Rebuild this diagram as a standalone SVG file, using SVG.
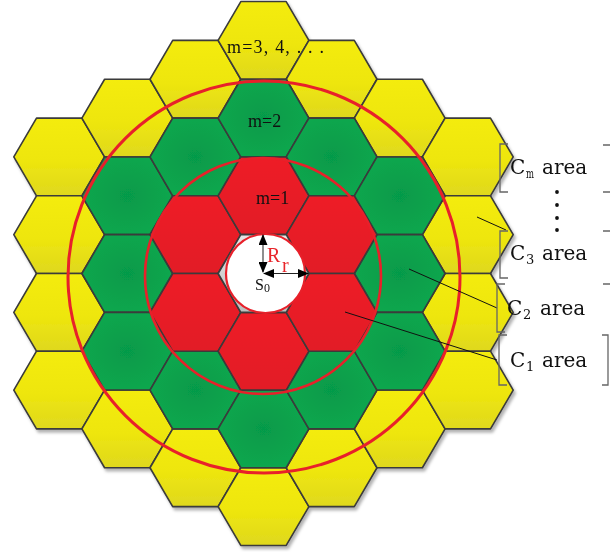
<svg xmlns="http://www.w3.org/2000/svg" xmlns:xlink="http://www.w3.org/1999/xlink" width="610" height="552" viewBox="0 0 610 552">
<style>
.hx{stroke:#3a3a3a;stroke-width:1.6;stroke-linejoin:round}
.y{fill:url(#gY)}
.g{fill:url(#gG)}
.r{fill:url(#gR)}
.c{fill:url(#gC)}
.ring{fill:none;stroke:#E8202A}
.lead{stroke:#111;stroke-width:1;fill:none}
.br{stroke:#666;stroke-width:1.3;fill:none}
.tm{font-family:"Liberation Serif","Times New Roman",serif;font-size:18px;fill:#111}
.lb{font-family:"DejaVu Serif","Liberation Serif",serif;font-size:20px;fill:#111}
.sb{font-family:"DejaVu Serif","Liberation Serif",serif;font-size:13px;fill:#111}
</style>
<defs>
<linearGradient id="gY" x1="0" y1="0" x2="0" y2="1">
<stop offset="0" stop-color="#F4EC0A"/><stop offset="0.55" stop-color="#EEE60E"/><stop offset="1" stop-color="#DFD81E"/>
</linearGradient>
<radialGradient id="gG" cx="0.5" cy="0.5" r="0.6">
<stop offset="0" stop-color="#069A4A"/><stop offset="1" stop-color="#0CA94E"/>
</radialGradient>
<linearGradient id="gR" x1="0" y1="0" x2="0" y2="1">
<stop offset="0" stop-color="#EE1C25"/><stop offset="1" stop-color="#E21D26"/>
</linearGradient>
<linearGradient id="gC" x1="0" y1="0" x2="0" y2="1">
<stop offset="0" stop-color="#e6e6e6"/><stop offset="1" stop-color="#bdbdbd"/>
</linearGradient>
<polygon id="hex" points="-45.4,0 -22.7,-38.85 22.7,-38.85 45.4,0 22.7,38.85 -22.7,38.85"/>
<filter id="sh" x="-5%" y="-5%" width="110%" height="110%">
<feDropShadow dx="2" dy="3" stdDeviation="1.8" flood-color="#000" flood-opacity="0.3"/>
</filter>
<marker id="ah" markerUnits="userSpaceOnUse" markerWidth="11" markerHeight="9" refX="10" refY="4.5" orient="auto-start-reverse" viewBox="0 0 11 9">
<path d="M0,0 L11,4.5 L0,9 z" fill="#000"/>
</marker>
</defs>

<g id="cells" filter="url(#sh)">
<g id="ring3">
<g id="y1"><use xlink:href="#hex" class="hx y" x="59.2" y="156.95"/></g>
<g id="y2"><use xlink:href="#hex" class="hx y" x="59.2" y="234.65"/></g>
<g id="y3"><use xlink:href="#hex" class="hx y" x="59.2" y="312.35"/></g>
<g id="y4"><use xlink:href="#hex" class="hx y" x="59.2" y="390.05"/></g>
<g id="y5"><use xlink:href="#hex" class="hx y" x="127.3" y="118.1"/></g>
<g id="y6"><use xlink:href="#hex" class="hx y" x="127.3" y="428.9"/></g>
<g id="y7"><use xlink:href="#hex" class="hx y" x="195.4" y="79.25"/></g>
<g id="y8"><use xlink:href="#hex" class="hx y" x="195.4" y="467.75"/></g>
<g id="y9"><use xlink:href="#hex" class="hx y" x="263.5" y="40.4"/></g>
<g id="y10"><use xlink:href="#hex" class="hx y" x="263.5" y="506.6"/></g>
<g id="y11"><use xlink:href="#hex" class="hx y" x="331.6" y="79.25"/></g>
<g id="y12"><use xlink:href="#hex" class="hx y" x="331.6" y="467.75"/></g>
<g id="y13"><use xlink:href="#hex" class="hx y" x="399.7" y="118.1"/></g>
<g id="y14"><use xlink:href="#hex" class="hx y" x="399.7" y="428.9"/></g>
<g id="y15"><use xlink:href="#hex" class="hx y" x="467.8" y="156.95"/></g>
<g id="y16"><use xlink:href="#hex" class="hx y" x="467.8" y="234.65"/></g>
<g id="y17"><use xlink:href="#hex" class="hx y" x="467.8" y="312.35"/></g>
<g id="y18"><use xlink:href="#hex" class="hx y" x="467.8" y="390.05"/></g>
</g>
<g id="ring2">
<g id="g1"><use xlink:href="#hex" class="hx g" x="127.3" y="195.8"/></g>
<g id="g2"><use xlink:href="#hex" class="hx g" x="127.3" y="273.5"/></g>
<g id="g3"><use xlink:href="#hex" class="hx g" x="127.3" y="351.2"/></g>
<g id="g4"><use xlink:href="#hex" class="hx g" x="195.4" y="156.95"/></g>
<g id="g5"><use xlink:href="#hex" class="hx g" x="195.4" y="390.05"/></g>
<g id="g6"><use xlink:href="#hex" class="hx g" x="263.5" y="118.1"/></g>
<g id="g7"><use xlink:href="#hex" class="hx g" x="263.5" y="428.9"/></g>
<g id="g8"><use xlink:href="#hex" class="hx g" x="331.6" y="156.95"/></g>
<g id="g9"><use xlink:href="#hex" class="hx g" x="331.6" y="390.05"/></g>
<g id="g10"><use xlink:href="#hex" class="hx g" x="399.7" y="195.8"/></g>
<g id="g11"><use xlink:href="#hex" class="hx g" x="399.7" y="273.5"/></g>
<g id="g12"><use xlink:href="#hex" class="hx g" x="399.7" y="351.2"/></g>
</g>
<g id="ring1">
<g id="r1"><use xlink:href="#hex" class="hx r" x="195.4" y="234.65"/></g>
<g id="r2"><use xlink:href="#hex" class="hx r" x="195.4" y="312.35"/></g>
<g id="r3"><use xlink:href="#hex" class="hx r" x="263.5" y="195.8"/></g>
<g id="r4"><use xlink:href="#hex" class="hx r" x="263.5" y="351.2"/></g>
<g id="r5"><use xlink:href="#hex" class="hx r" x="331.6" y="234.65"/></g>
<g id="r6"><use xlink:href="#hex" class="hx r" x="331.6" y="312.35"/></g>
</g>
<g id="center"><use xlink:href="#hex" class="hx c" x="263.5" y="273.5"/></g>
</g>

<g id="circles">
<circle id="outer-circle" class="ring" cx="264" cy="277" r="196" stroke-width="3"/>
<circle id="middle-circle" class="ring" cx="263" cy="276" r="118" stroke-width="2.6"/>
<circle id="s0-circle" cx="265.5" cy="273.5" r="39.5" fill="#fff" stroke="#E8202A" stroke-width="2.2"/>
</g>

<g id="connectors">
<line class="lead" x1="345" y1="312" x2="497" y2="360"/>
<line class="lead" x1="409" y1="269" x2="497" y2="308"/>
<line class="lead" x1="477" y1="217" x2="506" y2="230"/>
<line x1="263" y1="235" x2="263" y2="272" stroke="#444" stroke-width="1.2" marker-start="url(#ah)" marker-end="url(#ah)"/>
<line x1="264" y1="273.5" x2="308" y2="273.5" stroke="#222" stroke-width="1.2" marker-start="url(#ah)" marker-end="url(#ah)"/>
</g>

<g id="ring-labels">
<text class="tm" x="227" y="53" textLength="97" lengthAdjust="spacing">m=3, 4, . . .</text>
<text class="tm" x="248" y="127">m=2</text>
<text class="tm" x="256" y="204">m=1</text>
<text x="267" y="262" font-family="Liberation Serif,serif" font-size="20" fill="#E8262B">R</text>
<text x="282" y="272" font-family="Liberation Serif,serif" font-size="20" fill="#E8262B">r</text>
<text x="255" y="290" font-family="Liberation Serif,serif" font-size="16" fill="#111">S</text>
<text x="264" y="292" font-family="Liberation Serif,serif" font-size="12" fill="#111">0</text>
</g>

<g id="area-Cm">
<path class="br" d="M508,144 H500 V192 H508"/>
<text class="lb" x="510" y="174">C</text>
<text class="sb" x="526" y="178" font-size="12" textLength="8" lengthAdjust="spacingAndGlyphs">m</text>
<text class="lb" x="542" y="174">area</text>
<path class="br" d="M603,145 H610 M603,192 H610"/>
</g>
<g id="dots">
<circle cx="557" cy="192" r="1.9" fill="#111"/>
<circle cx="557" cy="205" r="1.9" fill="#111"/>
<circle cx="557" cy="218" r="1.9" fill="#111"/>
<circle cx="557" cy="230" r="1.9" fill="#111"/>
</g>
<g id="area-C3">
<path class="br" d="M508,231 H500 V278 H508"/>
<text class="lb" x="510" y="260">C</text>
<text class="sb" x="526" y="264">3</text>
<text class="lb" x="542" y="260">area</text>
<path class="br" d="M603,231 H610 M603,284 H610"/>
</g>
<g id="area-C2">
<path class="br" d="M505,284 H497 V332 H505"/>
<text class="lb" x="507" y="315">C</text>
<text class="sb" x="523" y="319">2</text>
<text class="lb" x="540" y="315">area</text>
</g>
<g id="area-C1">
<path class="br" d="M507,335 H499 V385 H507"/>
<text class="lb" x="510" y="367">C</text>
<text class="sb" x="526" y="371">1</text>
<text class="lb" x="542" y="367">area</text>
<path class="br" d="M602,335 H608 V385 H602"/>
</g>
</svg>
